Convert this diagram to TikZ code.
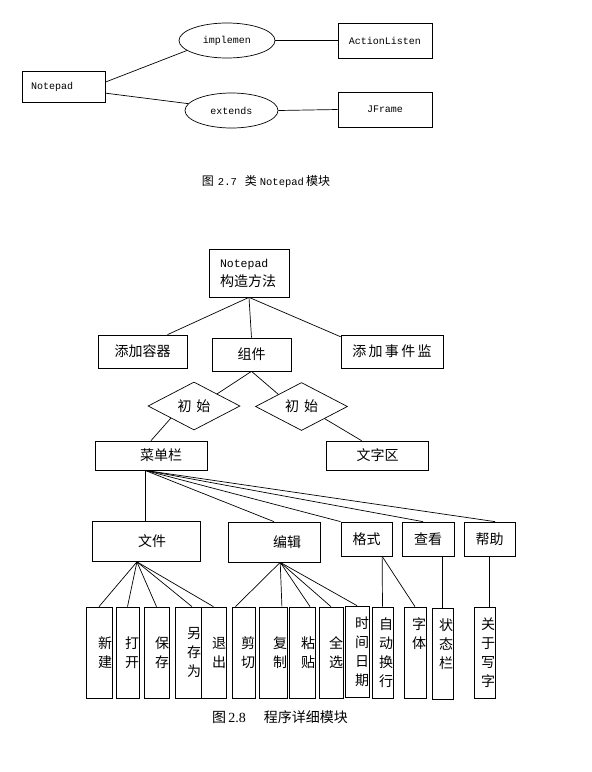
\documentclass[tikz,border=0pt]{standalone}
\usepackage{fontspec}
\setmainfont{Liberation Serif}
\setmonofont{Liberation Mono}
\newfontfamily\cjk{Noto Sans CJK SC}
\usetikzlibrary{shapes.geometric}
\tikzset{
  box/.style={draw,rectangle,inner sep=0pt,font=\cjk\fontsize{14}{19}\selectfont},
  wh/.style 2 args={minimum width=#1,minimum height=#2},
  latin/.style={font=\ttfamily\fontsize{10}{12}\selectfont},
  oval/.style={draw,ellipse,inner sep=0pt,latin},
  rhomb/.style={draw,diamond,inner sep=0pt,minimum width=92pt,minimum height=48pt,
    font=\cjk\fontsize{14}{19}\selectfont},
  leaf/.style={box,minimum height=91pt,inner xsep=0pt,text width=#1,align=right},
  caption/.style={font=\fontsize{14}{16}\selectfont}
}

\begin{document}
\begin{tikzpicture}[x=1pt,y=-1pt,line width=0.7pt]
\fill[white] (0,0) rectangle (592,772);
\useasboundingbox (0,0) rectangle (592,772);

% class Notepad
\node[box,latin,text width=65pt,inner xsep=9pt,minimum height=31pt,align=left] (np) at (63.5,86.5) {Notepad};
\node[oval,wh={96pt}{35pt}] (impl) at (227,40.5) {implemen};
\node[oval,wh={93pt}{35pt}] (ext) at (231.5,110.5) {extends};
\node[box,latin,wh={94pt}{35pt}] (al) at (385,40.5) {ActionListen};
\node[box,latin,wh={94pt}{35pt}] (jf) at (385,109.5) {JFrame};
\draw (np.6) -- (impl.194);
\draw (np.-9) -- (ext.171);
\draw (impl.east) -- (al.west);
\draw (ext.east) -- (jf.west);
\node[font=\fontsize{12}{14}\selectfont] (cap1) at (266,182)
  {{\cjk 图}\hspace{4pt}{\ttfamily\fontsize{10.5}{12}\selectfont 2.7}\hspace{8pt}{\cjk 类}\hspace{3pt}{\ttfamily\fontsize{10.5}{12}\selectfont Notepad}\hspace{2pt}{\cjk 模块}};

% program modules
\node[box,text width=58pt,inner xsep=11pt,minimum height=48pt,align=left] (npc) at (249,273)
  {{\ttfamily\fontsize{11.5}{12}\selectfont Notepad}\\构造方法};
\node[box,wh={89pt}{33pt}] (rq) at (142.5,351.5) {添加容器};
\node[box,wh={79pt}{33pt}] (zj) at (251.5,354.5) {组件};
\node[box,wh={102pt}{33pt}] (sj) at (392,351.5) {添\,加\,事\,件\,监};
\node[rhomb] (d1) at (194,406) {初\hspace{5pt}始};
\node[rhomb] (d2) at (301.5,406.5) {初\hspace{5pt}始};
\node[box,wh={112pt}{29pt}] (cd) at (151,455.5) {\hspace*{20pt}菜单栏};
\node[box,wh={102pt}{29pt}] (wz) at (377.5,455.5) {文字区};
\draw (npc.south) -- (rq.34);
\draw (npc.south) -- (zj.north);
\draw (npc.south) -- (sj.164);
\draw (zj.south) -- (d1.north east);
\draw (zj.south) -- (d2.north west);
\draw (d1.south west) -- (cd.north);
\draw (d2.south east) -- (wz.137);

% menus
\node[box,wh={108pt}{40pt}] (wj) at (146,541.5) {\hspace*{12pt}文件};
\node[box,wh={92pt}{40pt}] (bj) at (274,542) {\hspace*{26pt}编辑};
\node[box,wh={51pt}{34pt}] (gs) at (366.5,539) {格式};
\node[box,wh={52pt}{34pt}] (ck) at (428,539) {查看};
\node[box,wh={51pt}{34pt}] (bz) at (489.5,539) {帮助};
\draw (cd.-112) -- (cd.-112 |- wj.north);
\draw (cd.-112) -- (bj.north);
\draw (cd.-112) -- (gs.north west);
\draw (cd.-112) -- (ck.106);
\draw (cd.-112) -- (bz.72);

% menu items
\node[leaf=26pt] (xj) at (99,652.5) {新\\建};
\node[leaf=23pt] (dk) at (127.5,652.5) {打\\开};
\node[leaf=25pt] (bc) at (156.5,652.5) {保\\存};
\node[leaf=26pt] (lc) at (188,652.5) {另\\存\\为};
\node[leaf=25pt] (tc) at (213.5,652.5) {退\\出};
\node[leaf=23pt] (jq) at (243.5,652.5) {剪\\切};
\node[leaf=28pt] (fz) at (273,652.5) {复\\制};
\node[leaf=26pt] (nt) at (302,652.5) {粘\\贴};
\node[leaf=24pt] (qx) at (331,652.5) {全\\选};
\node[leaf=24pt] (sjrq) at (357,651.5) {时\\间\\日\\期};
\node[leaf=21pt] (zdhh) at (382.5,652.5) {自\\动\\换\\行};
\node[leaf=22pt] (zt) at (415,652.5) {字\\体\\~\\~};
\node[leaf=21pt] (ztl) at (442.5,653.5) {状\\态\\栏\\~};
\node[leaf=21pt] (gy) at (484.5,652.5) {关\\于\\写\\字};
\draw (wj.-114) -- (xj.north);
\draw (wj.-114) -- (dk.north);
\draw (wj.-114) -- (bc.north);
\draw (wj.-114) -- (lc.85);
\draw (wj.-114) -- (tc.north);
\draw (bj.-73) -- (jq.100);
\draw (bj.-73) -- (fz.79);
\draw (bj.-73) -- (nt.80);
\draw (bj.-73) -- (qx.north);
\draw (bj.-73) -- (sjrq.north);
\draw (gs.-48) -- (zdhh.north);
\draw (gs.-48) -- (zt.north);
\draw (ck.south -| ztl.north) -- (ztl.north);
\draw (bz.south) -- (bz.south |- gy.north);
\node[caption] (cap2) at (280,717) {{\cjk 图}\,2.8\hspace{18pt}{\cjk 程序详细模块}};
\end{tikzpicture}
\end{document}
